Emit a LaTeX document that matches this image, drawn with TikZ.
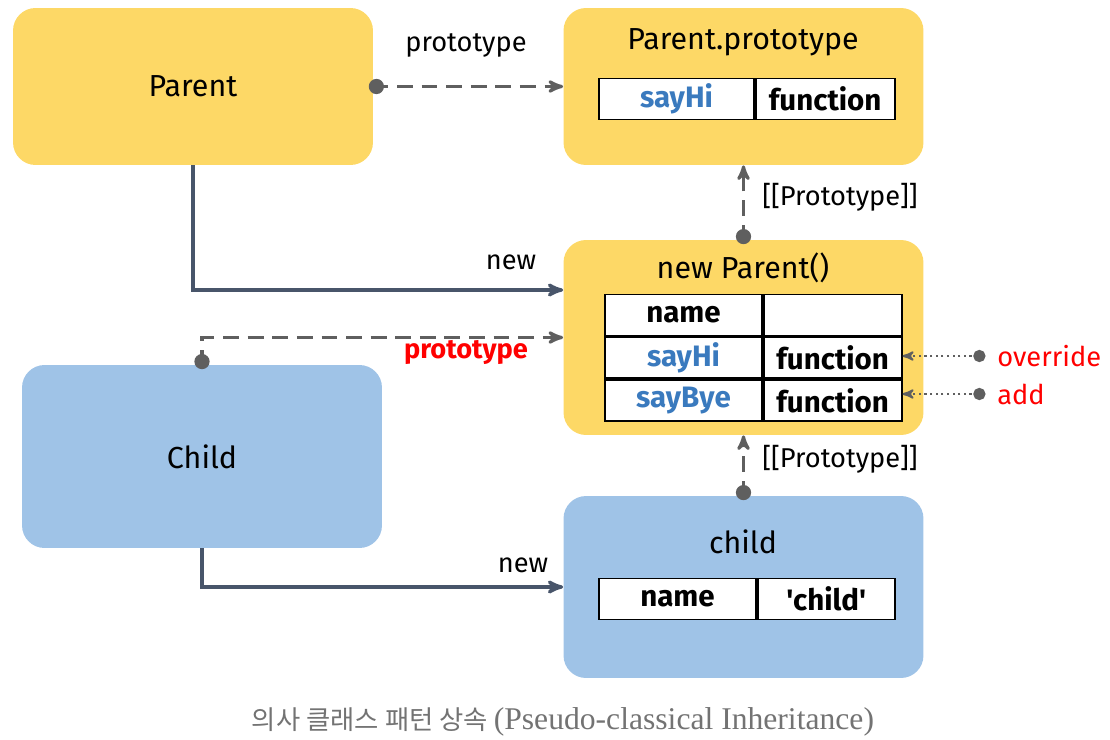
\documentclass[tikz,border=0pt]{standalone}
\usepackage{fontspec}
\setmainfont{Fira Sans}[Ligatures=TeXOff]
\newfontfamily\capfont{Liberation Serif}
\newfontfamily\krfont{Noto Sans CJK KR}
\usetikzlibrary{arrows}
\definecolor{box_yellow}{RGB}{253,216,102}
\definecolor{box_blue}{RGB}{159,195,231}
\definecolor{edge_slate}{RGB}{72,85,106}
\definecolor{edge_gray}{RGB}{95,95,95}
\definecolor{key_blue}{RGB}{58,122,190}
\definecolor{cap_gray}{RGB}{115,115,115}

\begin{document}
\begin{tikzpicture}[->,>=stealth',x=0.02cm,y=-0.02cm,font=\fontsize{17.3}{20}\selectfont]
    \tikzstyle{obj}=[rounded corners=0.45cm, minimum width=7.2cm, inner sep=0pt]
    \tikzstyle{cell}=[draw=black, line width=1pt, fill=white, minimum height=0.82cm, inner sep=0pt, font=\fontsize{16.8}{20}\selectfont\bfseries]
    \tikzstyle{lbl}=[font=\fontsize{15.5}{19}\selectfont]
    \tikzstyle{newline}=[edge_slate, line width=1.9pt]
    \tikzstyle{protoline}=[edge_gray, line width=1.8pt, dash pattern=on 9pt off 5pt, *->, shorten <=-0.09cm]
    \tikzstyle{addline}=[edge_gray, line width=1.2pt, dotted, *->, shorten <=-0.07cm]

    \useasboundingbox (0,0) rectangle (1110,740);

    \node[obj, fill=box_yellow, minimum height=3.14cm] (parent) at (193,86.5) {Parent};
    \node[obj, fill=box_yellow, minimum height=3.14cm] (pproto) at (743.5,86.5) {};
    \node[obj, fill=box_yellow, minimum height=3.9cm] (nparent) at (743.5,337.5) {};
    \node[obj, fill=box_blue, minimum height=3.66cm] (child) at (202,456.5) {Child};
    \node[obj, fill=box_blue, minimum height=3.64cm] (cobj) at (743.5,587) {};

    \node (pptitle) at (743,42) {Parent.prototype};
    \node[cell, minimum width=3.1cm] (pphi) at (676.5,99) {\textcolor{key_blue}{sayHi}};
    \node[cell, minimum width=2.78cm, anchor=west] (pphifun) at (pphi.east) {function};

    \node (nptitle) at (743,268) {new Parent()};
    \node[cell, minimum width=3.14cm] (npname) at (683.5,315) {name};
    \node[cell, minimum width=2.76cm, anchor=west] (npnameval) at (npname.east) {};
    \node[cell, minimum width=3.14cm, anchor=north] (nphi) at (npname.south) {\textcolor{key_blue}{sayHi}};
    \node[cell, minimum width=2.76cm, anchor=west] (nphifun) at (nphi.east) {function};
    \node[cell, minimum width=3.14cm, anchor=north] (npbye) at (nphi.south) {\textcolor{key_blue}{sayBye}};
    \node[cell, minimum width=2.76cm, anchor=west] (npbyefun) at (npbye.east) {function};

    \node (ctitle) at (743,542) {child};
    \node[cell, minimum width=3.14cm] (cname) at (677.5,599) {name};
    \node[cell, minimum width=2.74cm, anchor=west] (cnameval) at (cname.east) {'child'};

    \node[lbl] (lblproto) at (466,45) {prototype};
    \node[lbl] (lblnewp) at (511,262) {new};
    \node[lbl, text=red, font=\fontsize{15.5}{19}\selectfont\bfseries] (lblcproto) at (466,352) {prototype};
    \node[lbl] (lblnewc) at (523,565) {new};
    \node[lbl] (lblpp) at (840,197) {[[Prototype]]};
    \node[lbl] (lblcp) at (840,459) {[[Prototype]]};
    \node[lbl, text=red, anchor=west, inner xsep=0.3cm] (ovr) at (982,356) {override};
    \node[lbl, text=red, anchor=west, inner xsep=0.3cm] (add) at (982,394) {add};

    \path
     (parent.east) edge[protoline] (pproto.west)
     (nparent.north) edge[protoline] (pproto.south)
     (cobj.north) edge[protoline] (nparent.south)
     (ovr.west) edge[addline] (nphifun.east |- ovr.west)
     (add.west) edge[addline] (npbyefun.east |- add.west)
     ;
    \draw[newline] (parent.south) |- ([yshift=0.95cm]nparent.west);
    \draw[protoline] (child.north) |- (nparent.west);
    \draw[newline] (child.south) |- (cobj.west);

    \node[text=cap_gray, font=\fontsize{15}{18}\selectfont] (caption) at (563,722) {\krfont 의사 클래스 패턴 상속 \capfont\fontsize{18}{20}\selectfont (Pseudo-classical Inheritance)};
\end{tikzpicture}
\end{document}
